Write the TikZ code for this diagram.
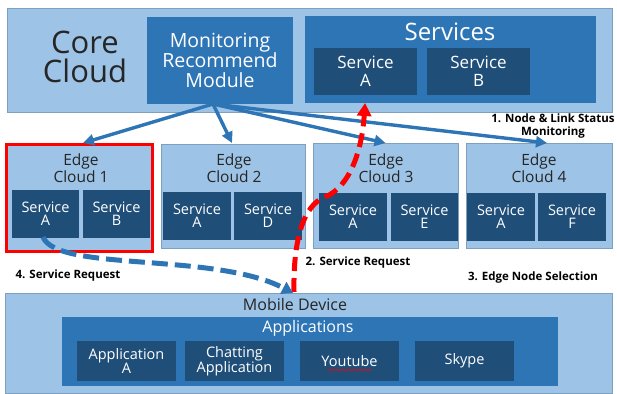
\documentclass[tikz,border=0pt]{standalone}
\usepackage{fontspec}
\setmainfont{Open Sans}
\usetikzlibrary{arrows.meta,calc,decorations.pathmorphing}
\definecolor{lightblue}{HTML}{9DC3E6}
\definecolor{midblue}{HTML}{2E75B6}
\definecolor{darkblue}{HTML}{1F4E79}
\definecolor{textgray}{HTML}{262626}
\definecolor{edgeline}{HTML}{7F9FBF}
\definecolor{alertred}{HTML}{FF0000}
\tikzset{
  box/.style={rectangle, inner sep=0pt, outer sep=0pt, align=center},
  outerbox/.style={box, fill=lightblue, draw=edgeline, line width=0.6pt},
  midbox/.style={box, fill=midblue, text=white},
  svcbox/.style={box, fill=darkblue, text=white, font=\fontsize{14.5}{13}\selectfont},
  coresvc/.style={box, fill=darkblue, text=white, font=\fontsize{17}{18}\selectfont},
  edgetitle/.style={align=center, inner sep=0pt, text=textgray, font=\fontsize{15.5}{14.5}\selectfont},
  steplabel/.style={align=center, inner sep=0pt, text=black, font=\bfseries\fontsize{11.5}{13}\selectfont},
  monitorarrow/.style={draw=midblue, line width=3.4pt, -{Triangle[length=11pt,width=11pt]}},
  requestred/.style={draw=alertred, line width=5pt, dash pattern=on 14pt off 7pt, -{Triangle[length=13pt,width=14pt]}},
  requestblue/.style={draw=midblue, line width=5pt, dash pattern=on 16pt off 7pt, -{Triangle[length=11pt,width=13pt]}},
}
\begin{document}
\begin{tikzpicture}[x=1pt,y=-1pt]
\useasboundingbox[fill=white] (0,0) rectangle (617,393);

% ---------- core cloud ----------
\node[outerbox, minimum width=605pt, minimum height=104pt] (core) at (309.5,60) {};
\node[align=center, inner sep=0pt, text=textgray, font=\fontsize{31}{29}\selectfont] (coretitle) at (85,57) {Core\\Cloud};
\node[midbox, minimum width=146pt, minimum height=87pt, font=\fontsize{19.5}{20}\selectfont] (monitor) at (220,60.5) {Monitoring\\Recommend\\Module};
\node[midbox, minimum width=291pt, minimum height=87pt] (services) at (450.5,59.5) {};
\node[inner sep=0pt, text=white, font=\fontsize{24}{24}\selectfont] (servtitle) at (450,32) {Services};
\node[coresvc, minimum width=103pt, minimum height=47pt] (csa) at (365.5,71.5) {Service\\A};
\node[coresvc, minimum width=103pt, minimum height=47pt] (csb) at (478.5,71.5) {Service\\B};

% ---------- edge clouds ----------
\node[outerbox, draw=alertred, line width=3pt, minimum width=146pt, minimum height=107pt] (edge1) at (79,197.5) {};
\node[outerbox, minimum width=144pt, minimum height=104pt] (edge2) at (233,196) {};
\node[outerbox, minimum width=145pt, minimum height=105pt] (edge3) at (385.5,195.5) {};
\node[outerbox, minimum width=146pt, minimum height=105pt] (edge4) at (539,195.5) {};

\node[edgetitle] (e1t) at (81,168) {Edge\\Cloud 1};
\node[edgetitle] (e2t) at (234,168) {Edge\\Cloud 2};
\node[edgetitle] (e3t) at (386,168) {Edge\\Cloud 3};
\node[edgetitle] (e4t) at (539,168) {Edge\\Cloud 4};

\node[svcbox, minimum width=67pt, minimum height=48pt] (e1a) at (45.5,214) {Service\\A};
\node[svcbox, minimum width=67pt, minimum height=48pt] (e1b) at (116.5,214) {Service\\B};
\node[svcbox, minimum width=68pt, minimum height=48pt] (e2a) at (197,216) {Service\\A};
\node[svcbox, minimum width=68pt, minimum height=48pt] (e2d) at (268,216) {Service\\D};
\node[svcbox, minimum width=68pt, minimum height=48pt] (e3a) at (353,217) {Service\\A};
\node[svcbox, minimum width=67pt, minimum height=48pt] (e3e) at (424.5,217) {Service\\E};
\node[svcbox, minimum width=68pt, minimum height=48pt] (e4a) at (501,217) {Service\\A};
\node[svcbox, minimum width=68pt, minimum height=48pt] (e4f) at (572,217) {Service\\F};

% ---------- mobile device ----------
\node[outerbox, minimum width=607pt, minimum height=100pt] (mobile) at (308.5,343) {};
\node[inner sep=0pt, text=textgray, font=\fontsize{16}{16}\selectfont] (mobtitle) at (295,304) {Mobile Device};
\node[midbox, minimum width=496pt, minimum height=69pt] (apps) at (310,351.5) {};
\node[inner sep=0pt, text=white, font=\fontsize{16}{16}\selectfont] (appstitle) at (308,328) {Applications};
\node[svcbox, minimum width=99pt, minimum height=40pt] (appa) at (126.5,361) {Application\\A};
\node[svcbox, minimum width=99pt, minimum height=40pt] (chat) at (234.5,361) {Chatting\\Application};
\node[svcbox, minimum width=99pt, minimum height=40pt] (yt) at (349.5,361) {Youtube};
\node[svcbox, minimum width=99pt, minimum height=40pt] (skype) at (464.5,361) {Skype};
% spell-check squiggle under the Youtube label
\draw[alertred, line width=0.6pt, decorate, decoration={snake, amplitude=0.6pt, segment length=3pt}]
  ($(yt.center)+(-22,9)$) -- ($(yt.center)+(22,9)$);

% ---------- monitoring arrows ----------
\coordinate (mmout) at (213,104);
\draw[monitorarrow] (mmout) -- ($(edge1.north)+(4,-1)$);
\draw[monitorarrow] (mmout) -- ($(edge2.north)+(-1,-1)$);
\draw[monitorarrow] (mmout) -- ($(edge3.north)+(0,0)$);
\draw[monitorarrow] (mmout) -- ($(edge4.north)+(8,0)$);

% ---------- service request paths ----------
\coordinate (redstart) at (294,292);
\coordinate (redbend) at (325,197);
\coordinate (redend) at (365,103);
\draw[requestred] (redstart) .. controls (293,238) and (304,205) .. (redbend)
  .. controls (350,187) and (362,150) .. (redend);

\coordinate (bluestart) at (43,237);
\coordinate (blueend) at (293,293);
\draw[requestblue] (bluestart) .. controls (57,272) and (215,252) .. (blueend);

% ---------- step labels ----------
\node[steplabel] (l1) at (553,126.5) {1. Node \& Link Status\\Monitoring};
\node[steplabel] (l2) at (358,263) {2. Service Request};
\node[steplabel] (l3) at (533,278) {3. Edge Node Selection};
\node[steplabel] (l4) at (68,276) {4. Service Request};
\end{tikzpicture}
\end{document}
